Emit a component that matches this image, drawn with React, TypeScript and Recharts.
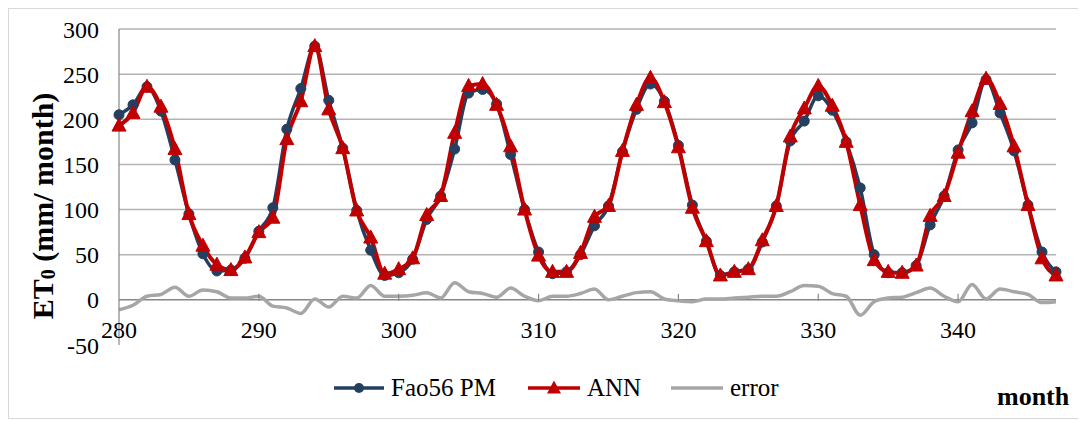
import React from 'react';
import { LineChart, Line, XAxis, YAxis, ReferenceLine, ReferenceDot, Legend } from 'recharts';

const months = [280,281,282,283,284,285,286,287,288,289,290,291,292,293,294,295,296,297,298,299,300,301,302,303,304,305,306,307,308,309,310,311,312,313,314,315,316,317,318,319,320,321,322,323,324,325,326,327,328,329,330,331,332,333,334,335,336,337,338,339,340,341,342,343,344,345,346,347];
const fao56 = [205,216,236,209,155,95,51,32,33,46,76,102,189,234,281,221,168,99,55,27,30,45,89,115,167,229,233,217,161,100,53,29,31,50,82,104,164,211,239,220,171,105,65,27,31,34,64,104,176,198,226,210,175,124,50,30,30,38,83,115,166,196,244,207,165,105,53,31];
const ann = [193,207,236,214,167,95,60,39,33,47,75,91,178,220,281,211,168,99,69,29,34,46,94,115,185,237,239,216,170,100,49,31,31,52,92,104,165,216,246,219,169,102,65,27,31,34,66,104,181,212,237,215,175,105,44,31,30,38,93,115,163,209,245,217,170,105,46,27];
const errorVals = [-11,-6,4,6,14,4,11,9,2,2,4,-7,-9,-15,1,-8,4,2,16,4,4,5,8,2,19,9,7,3,13,4,-1,4,4,7,12,0,4,8,9,1,-1,-2,1,1,2,3,4,4,9,16,15,7,4,-17,-2,2,3,8,13,4,-2,17,1,12,9,6,-3,-2];
const xTicks = [280, 290, 300, 310, 320, 330, 340];
const yTicks = [-50, 0, 50, 100, 150, 200, 250, 300];
const gridValues = [50, 100, 150, 200, 250, 300];

const data = months.map((m, i) => ({ month: m, fao: fao56[i], ann: ann[i], error: errorVals[i] }));

const FONT = '"Liberation Serif", "Times New Roman", Times, serif';
const BLUE = '#243F60';
const RED = '#C00000';
const GRAY = '#A6A6A6';

const Triangle = (props: any) => {
  const { cx, cy } = props;
  if (cx == null || cy == null) return null;
  return <polygon points={`${cx},${cy - 7.5} ${cx + 7},${cy + 5.5} ${cx - 7},${cy + 5.5}`} fill={RED} stroke={RED} strokeWidth={1} />;
};

const Circle = (props: any) => {
  const { cx, cy } = props;
  if (cx == null || cy == null) return null;
  return <circle cx={cx} cy={cy} r={5} fill={BLUE} stroke={BLUE} strokeWidth={1} />;
};

const makeTickShape = (label: number) => (props: any) => {
  const { cx, cy } = props;
  return (
    <g>
      {label !== 280 && <line x1={cx} x2={cx} y1={cy - 6} y2={cy + 1} stroke="#868686" strokeWidth={1.2} />}
      <text x={cx} y={cy + 30} textAnchor="middle" dominantBaseline="central" fontFamily={FONT} fontSize={24} fill="#000">{label}</text>
    </g>
  );
};

const YLabel = () => (
  <text transform="translate(33,197) rotate(-90)" textAnchor="middle" dominantBaseline="central" fontFamily={FONT} fontSize={30} fontWeight="bold" fill="#000">
    <tspan>ET</tspan>
    <tspan fontSize={20} dy={6}>0</tspan>
    <tspan dy={-6}> (mm/ month)</tspan>
  </text>
);

const renderLegend = () => (
  <div style={{ position: 'relative', width: 1070, height: 40, fontFamily: FONT, fontSize: 25, color: '#000' }}>
    <div style={{ position: 'absolute', left: 324, top: 0, display: 'flex', alignItems: 'center', height: 40 }}>
      <svg width={52} height={20}><line x1={1} x2={51} y1={10} y2={10} stroke={BLUE} strokeWidth={3.5} /><circle cx={26} cy={10} r={5} fill={BLUE} /></svg>
      <span style={{ marginLeft: 6 }}>Fao56 PM</span>
    </div>
    <div style={{ position: 'absolute', left: 518, top: 0, display: 'flex', alignItems: 'center', height: 40 }}>
      <svg width={54} height={20}><line x1={1} x2={53} y1={10} y2={10} stroke={RED} strokeWidth={3.5} /><polygon points="27,2.5 34,15.5 20,15.5" fill={RED} /></svg>
      <span style={{ marginLeft: 6 }}>ANN</span>
    </div>
    <div style={{ position: 'absolute', left: 661, top: 0, display: 'flex', alignItems: 'center', height: 40 }}>
      <svg width={54} height={20}><line x1={1} x2={53} y1={10} y2={10} stroke={GRAY} strokeWidth={3.5} /></svg>
      <span style={{ marginLeft: 6 }}>error</span>
    </div>
    <div style={{ position: 'absolute', left: 988, top: 9, height: 40, fontWeight: 'bold', fontSize: 26, display: 'flex', alignItems: 'center' }}>month</div>
  </div>
);

export default function App() {
  return (
    <div style={{ width: 1072, height: 411, border: '1px solid #d9d9d9', boxSizing: 'border-box', position: 'relative', background: '#fff' }}>
      <LineChart width={1070} height={409} data={data} margin={{ top: 20, right: 23, left: 0, bottom: 73 }}>
        <XAxis dataKey="month" type="number" domain={[280, 347]} ticks={xTicks} hide />
        <YAxis
          domain={[-50, 300]}
          ticks={yTicks}
          width={110}
          tickSize={0}
          tickMargin={20}
          tickLine={false}
          axisLine={{ stroke: '#868686', strokeWidth: 1.2 }}
          tick={{ fontFamily: FONT, fontSize: 24, fill: '#000' }}
          label={{ content: () => <YLabel /> }}
        />
        {gridValues.map((v) => (
          <ReferenceLine key={v} y={v} stroke="#B3B3B3" strokeWidth={1.5} />
        ))}
        <ReferenceLine y={0} stroke="#868686" strokeWidth={1.5} />
        {xTicks.map((t) => (
          <ReferenceDot key={t} x={t} y={0} r={0} shape={makeTickShape(t)} />
        ))}
        <Line type="monotone" dataKey="error" stroke={GRAY} strokeWidth={3.5} dot={false} isAnimationActive={false} />
        <Line type="monotone" dataKey="fao" stroke={BLUE} strokeWidth={3.5} dot={<Circle />} isAnimationActive={false} />
        <Line type="monotone" dataKey="ann" stroke={RED} strokeWidth={4} dot={<Triangle />} isAnimationActive={false} />
        <Legend
          layout="horizontal"
          verticalAlign="middle"
          align="center"
          content={renderLegend}
          wrapperStyle={{ position: 'absolute', left: 0, top: 359, width: 1070, height: 40 }}
        />
      </LineChart>
    </div>
  );
}
